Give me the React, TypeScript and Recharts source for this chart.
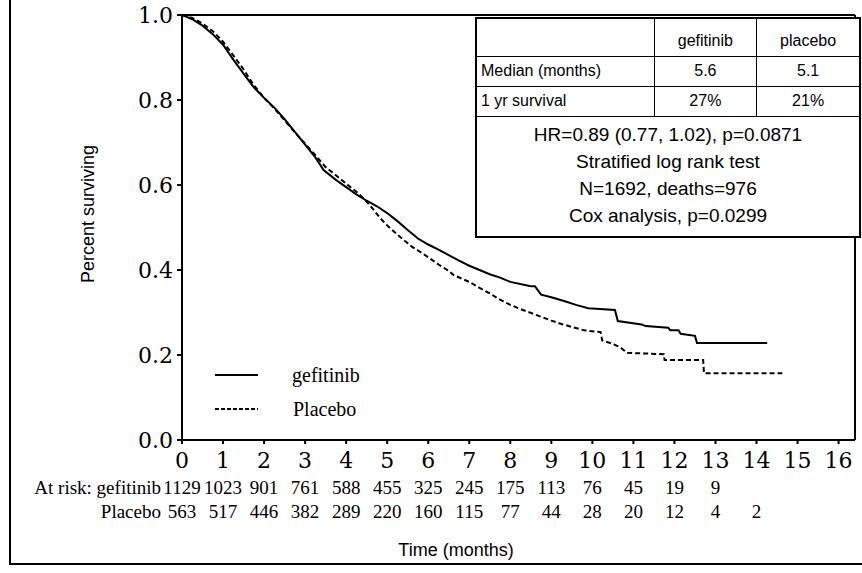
import React from 'react';
import { LineChart, Line, XAxis, YAxis, ReferenceLine } from 'recharts';

// Kaplan-Meier estimates (repeated months = visible steps)
const gefitinibMonths = [
  0, 0.25, 0.5, 0.75, 1, 1.25, 1.5, 1.75, 2, 2.25, 2.5, 2.75, 3, 3.25, 3.45, 3.75, 4,
  4.25, 4.5, 4.75, 5, 5.25, 5.5, 5.75, 6, 6.25, 6.5, 6.75, 7, 7.25, 7.5, 7.75, 8,
  8.5, 8.6, 8.75, 9, 9.35, 9.6, 9.9, 10.55, 10.62, 11.2, 11.3, 11.85, 11.9, 12.1,
  12.15, 12.5, 12.55, 14.26,
];
const gefitinibSurvival = [
  1, 0.99, 0.975, 0.955, 0.93, 0.895, 0.862, 0.83, 0.805, 0.782, 0.755, 0.725, 0.695,
  0.665, 0.635, 0.612, 0.595, 0.578, 0.563, 0.55, 0.534, 0.515, 0.494, 0.474, 0.46,
  0.448, 0.435, 0.422, 0.41, 0.4, 0.39, 0.382, 0.372, 0.362, 0.362, 0.342, 0.336,
  0.326, 0.318, 0.31, 0.306, 0.28, 0.272, 0.268, 0.264, 0.258, 0.258, 0.25, 0.245,
  0.228, 0.228,
];
const placeboMonths = [
  0, 0.25, 0.5, 0.75, 1, 1.25, 1.5, 1.75, 2, 2.25, 2.5, 2.75, 3, 3.25, 3.5, 3.75, 4,
  4.25, 4.42, 4.6, 4.83, 5, 5.25, 5.4, 5.6, 5.8, 6, 6.25, 6.5, 6.62, 7, 7.25, 7.5,
  7.75, 8, 8.25, 8.5, 8.75, 9, 9.25, 9.5, 9.8, 10.2, 10.24, 10.5, 10.68, 10.85,
  11.74, 11.76, 12.7, 12.72, 14.63,
];
const placeboSurvival = [
  1, 0.993, 0.98, 0.962, 0.937, 0.905, 0.872, 0.835, 0.805, 0.78, 0.752, 0.724, 0.697,
  0.67, 0.642, 0.623, 0.603, 0.584, 0.569, 0.55, 0.522, 0.505, 0.483, 0.471, 0.455,
  0.443, 0.43, 0.413, 0.398, 0.388, 0.372, 0.358, 0.345, 0.33, 0.318, 0.308, 0.299,
  0.29, 0.281, 0.273, 0.266, 0.258, 0.254, 0.234, 0.226, 0.218, 0.205, 0.202, 0.188,
  0.188, 0.157, 0.157,
];

const monthTicks = [0, 1, 2, 3, 4, 5, 6, 7, 8, 9, 10, 11, 12, 13, 14, 15, 16];
const survivalTicks = [0, 0.2, 0.4, 0.6, 0.8, 1];
const gefitinibAtRisk = [1129, 1023, 901, 761, 588, 455, 325, 245, 175, 113, 76, 45, 19, 9];
const placeboAtRisk = [563, 517, 446, 382, 289, 220, 160, 115, 77, 44, 28, 20, 12, 4, 2];

const tableHeader = ['', 'gefitinib', 'placebo'];
const tableRows = [
  ['Median (months)', '5.6', '5.1'],
  ['1 yr survival', '27%', '21%'],
];
const tableNotes = [
  'HR=0.89 (0.77, 1.02), p=0.0871',
  'Stratified log rank test',
  'N=1692, deaths=976',
  'Cox analysis, p=0.0299',
];

const gefitinibData = gefitinibMonths.map((t, i) => ({ t, s: gefitinibSurvival[i] }));
const placeboData = placeboMonths.map((t, i) => ({ t, s: placeboSurvival[i] }));

const serif = '"DejaVu Serif", serif';
const times = '"Liberation Serif", "Times New Roman", serif';
const sans = '"Liberation Sans", Arial, sans-serif';

const MonthTick = (props: any) => {
  const { x, y, payload } = props;
  const i = payload.value as number;
  return (
    <g>
      <text x={x} y={y} dy="0.78em" textAnchor="middle" fontFamily={serif} fontSize={22} fill="#000">
        {i}
      </text>
      {i === 0 && (
        <text x={x - 21} y={y + 43} textAnchor="end" fontFamily={times} fontSize={19} fill="#000">
          At risk: gefitinib
        </text>
      )}
      {i === 0 && (
        <text x={x - 21} y={y + 67} textAnchor="end" fontFamily={times} fontSize={19} fill="#000">
          Placebo
        </text>
      )}
      {i < gefitinibAtRisk.length && (
        <text x={x} y={y + 43} textAnchor="middle" fontFamily={times} fontSize={19} fill="#000">
          {gefitinibAtRisk[i]}
        </text>
      )}
      {i < placeboAtRisk.length && (
        <text x={x} y={y + 67} textAnchor="middle" fontFamily={times} fontSize={19} fill="#000">
          {placeboAtRisk[i]}
        </text>
      )}
    </g>
  );
};

const cell: React.CSSProperties = {
  border: '1.5px solid #000',
  fontFamily: sans,
  fontSize: 16,
  padding: '0 4px',
  color: '#000',
};

export default function App() {
  return (
    <div style={{ position: 'absolute', left: 0, top: 0, width: 862, height: 573, background: '#fff' }}>
      <LineChart width={862} height={573} margin={{ top: 15, right: 7, bottom: 0, left: 0 }}>
        <XAxis
          dataKey="t"
          type="number"
          domain={[0, 16.4]}
          ticks={monthTicks}
          allowDataOverflow
          height={133}
          stroke="#000"
          strokeWidth={2}
          tickSize={4}
          tickMargin={7}
          tick={<MonthTick />}
        />
        <YAxis
          type="number"
          domain={[0, 1]}
          ticks={survivalTicks}
          width={182}
          stroke="#000"
          strokeWidth={2}
          tickSize={5}
          tickMargin={4}
          tickFormatter={(v: number) => v.toFixed(1)}
          tick={{ fill: '#000', fontFamily: serif, fontSize: 22 }}
        />
        <ReferenceLine y={1} stroke="#000" strokeWidth={2} />
        <ReferenceLine x={16.4} stroke="#000" strokeWidth={2} />
        <Line
          data={gefitinibData}
          dataKey="s"
          type="linear"
          dot={false}
          stroke="#000"
          strokeWidth={2}
          isAnimationActive={false}
        />
        <Line
          data={placeboData}
          dataKey="s"
          type="linear"
          dot={false}
          stroke="#000"
          strokeWidth={2}
          strokeDasharray="5 3"
          isAnimationActive={false}
        />
      </LineChart>

      {/* legend */}
      <svg style={{ position: 'absolute', left: 210, top: 360 }} width={180} height={66}>
        <line x1={5} y1={15} x2={48} y2={15} stroke="#000" strokeWidth={2} />
        <text x={82} y={15} dy="0.35em" fontFamily={times} fontSize={20} fill="#000">
          gefitinib
        </text>
        <line x1={5} y1={49} x2={48} y2={49} stroke="#000" strokeWidth={2} strokeDasharray="4 2" />
        <text x={83} y={49} dy="0.35em" fontFamily={times} fontSize={20} fill="#000">
          Placebo
        </text>
      </svg>

      <div
        style={{
          position: 'absolute',
          left: 88,
          top: 214,
          transform: 'translate(-50%, -50%) rotate(-90deg)',
          fontFamily: sans,
          fontSize: 18,
          whiteSpace: 'nowrap',
        }}
      >
        Percent surviving
      </div>
      <div
        style={{
          position: 'absolute',
          left: 456,
          top: 550,
          transform: 'translate(-50%, -50%)',
          fontFamily: sans,
          fontSize: 18,
          whiteSpace: 'nowrap',
        }}
      >
        Time (months)
      </div>

      <div style={{ position: 'absolute', left: 9, top: 0, width: 860, height: 563, borderLeft: '2px solid #000', borderBottom: '2px solid #000' }} />

      <table
        style={{
          position: 'absolute',
          left: 475,
          top: 17,
          width: 386,
          height: 221,
          borderCollapse: 'collapse',
          background: '#fff',
          border: '2px solid #000',
        }}
      >
        <tbody>
          <tr style={{ height: 38 }}>
            {tableHeader.map((h, i) => (
              <td key={i} style={{ ...cell, width: i === 0 ? 172 : 95, textAlign: 'center', verticalAlign: 'bottom', paddingBottom: 6 }}>
                {h}
              </td>
            ))}
          </tr>
          {tableRows.map((row, r) => (
            <tr key={r} style={{ height: 30 }}>
              {row.map((v, i) => (
                <td key={i} style={{ ...cell, textAlign: i === 0 ? 'left' : 'center' }}>
                  {v}
                </td>
              ))}
            </tr>
          ))}
          <tr>
            <td colSpan={3} style={{ ...cell, fontSize: 19, textAlign: 'center', lineHeight: '27px', padding: '3px 0 5px' }}>
              {tableNotes.map((n) => (
                <div key={n}>{n}</div>
              ))}
            </td>
          </tr>
        </tbody>
      </table>
    </div>
  );
}
